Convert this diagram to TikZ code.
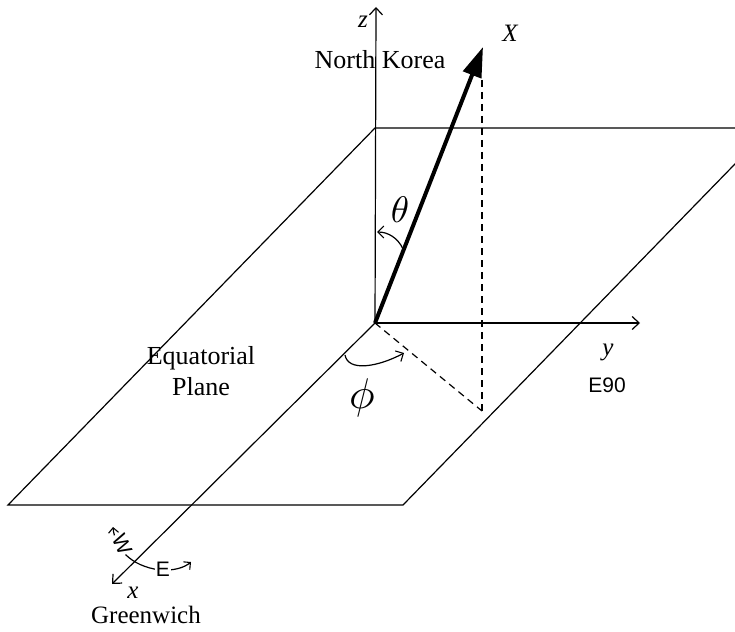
\documentclass[tikz,border=0pt]{standalone}
\usepackage{fontspec}
\setmainfont{Liberation Serif}
\newfontfamily\sansf{Liberation Sans}
\usetikzlibrary{arrows.meta}
\begin{document}
\begin{tikzpicture}[x=1pt,y=-1pt,
  thin line/.style={line width=1.2pt},
  axis/.style={thin line,-{Straight Barb[length=7pt,width=13pt,line width=1.2pt]}},
  dash line/.style={line width=1.2pt,dash pattern=on 7pt off 5pt},
  lbl/.style={inner sep=0pt,font=\fontsize{26}{28}\selectfont},
  ilbl/.style={inner sep=0pt,font=\fontsize{25}{28}\selectfont\itshape},
  slbl/.style={inner sep=0pt,font=\fontsize{21}{24}\selectfont\sansf}]
\useasboundingbox (0,0) rectangle (735,631);
\begin{scope}
\clip (0,0) rectangle (735,631);
% points
\coordinate (O) at (375,323);
\coordinate (Ztip) at (376,7);
\coordinate (Ytip) at (640,323);
\coordinate (Xtip) at (112,584);
\coordinate (V) at (483,47);
\coordinate (Vb) at (482,80);
\coordinate (F) at (482,411);
\coordinate (P1) at (375,128);
\coordinate (P2) at (770,128);
\coordinate (P3) at (403,505);
\coordinate (P4) at (8,505);
% plane
\draw[thin line] (P1) -- (P2) -- (P3) -- (P4) -- cycle;
\end{scope}
% axes
\draw[axis] (O) -- (Ztip);
\draw[axis] (O) -- (Ytip);
\draw[axis] (O) -- (Xtip);
% dashed projections
\draw[dash line] (Vb) -- (F);
\draw[dash line] (O) -- (F);
% vector
\draw[line width=4pt,-{Triangle[length=30pt,width=19pt]}] (O) -- (V);
% theta arc
\coordinate (T1) at (403,249);
\coordinate (T2) at (377,232);
\draw[thin line,-{Straight Barb[length=6pt,width=12pt,line width=1.1pt]}] (T1) .. controls (398,238) and (388,232) .. (T2);
\node[scale=3.7,inner sep=0pt] (theta) at (400,210) {$\theta$};
% phi arc
\coordinate (F1) at (345,355);
\coordinate (F2) at (404,353);
\draw[thin line,-{Straight Barb[length=6pt,width=12pt,line width=1.1pt]}] (F1) .. controls (348,372) and (378,367) .. (F2);
\node[scale=4.3,inner sep=0pt] (phi) at (362,398) {$\phi$};
% W/E arc
\coordinate (W1) at (113,527);
\coordinate (E2) at (191,562);
\draw[thin line,{Straight Barb[length=5pt,width=10pt,line width=1.1pt]}-{Straight Barb[length=5pt,width=10pt,line width=1.1pt]}] (W1) .. controls (115,548) and (130,566) .. (160,570) .. controls (175,571) and (185,567) .. (E2);
\node[slbl,fill=white,rotate=-65,inner sep=1pt] (W) at (122,544) {W};
\node[slbl,fill=white,inner sep=1pt] (E) at (163,569) {E};
% labels
\node[ilbl] (zl) at (363,22) {z};
\node[ilbl] (Xl) at (510,33) {X};
\node[lbl] (nk) at (380,60) {North Korea};
\node[ilbl] (yl) at (608,352) {y};
\node[slbl] (e90) at (607,385) {E90};
\node[lbl] (eq) at (201,358) {Equatorial};
\node[lbl] (pl) at (201,387) {Plane};
\node[ilbl] (xl) at (133,593) {x};
\node[lbl,font=\fontsize{25}{28}\selectfont] (gw) at (146,615) {Greenwich};
\end{tikzpicture}
\end{document}
